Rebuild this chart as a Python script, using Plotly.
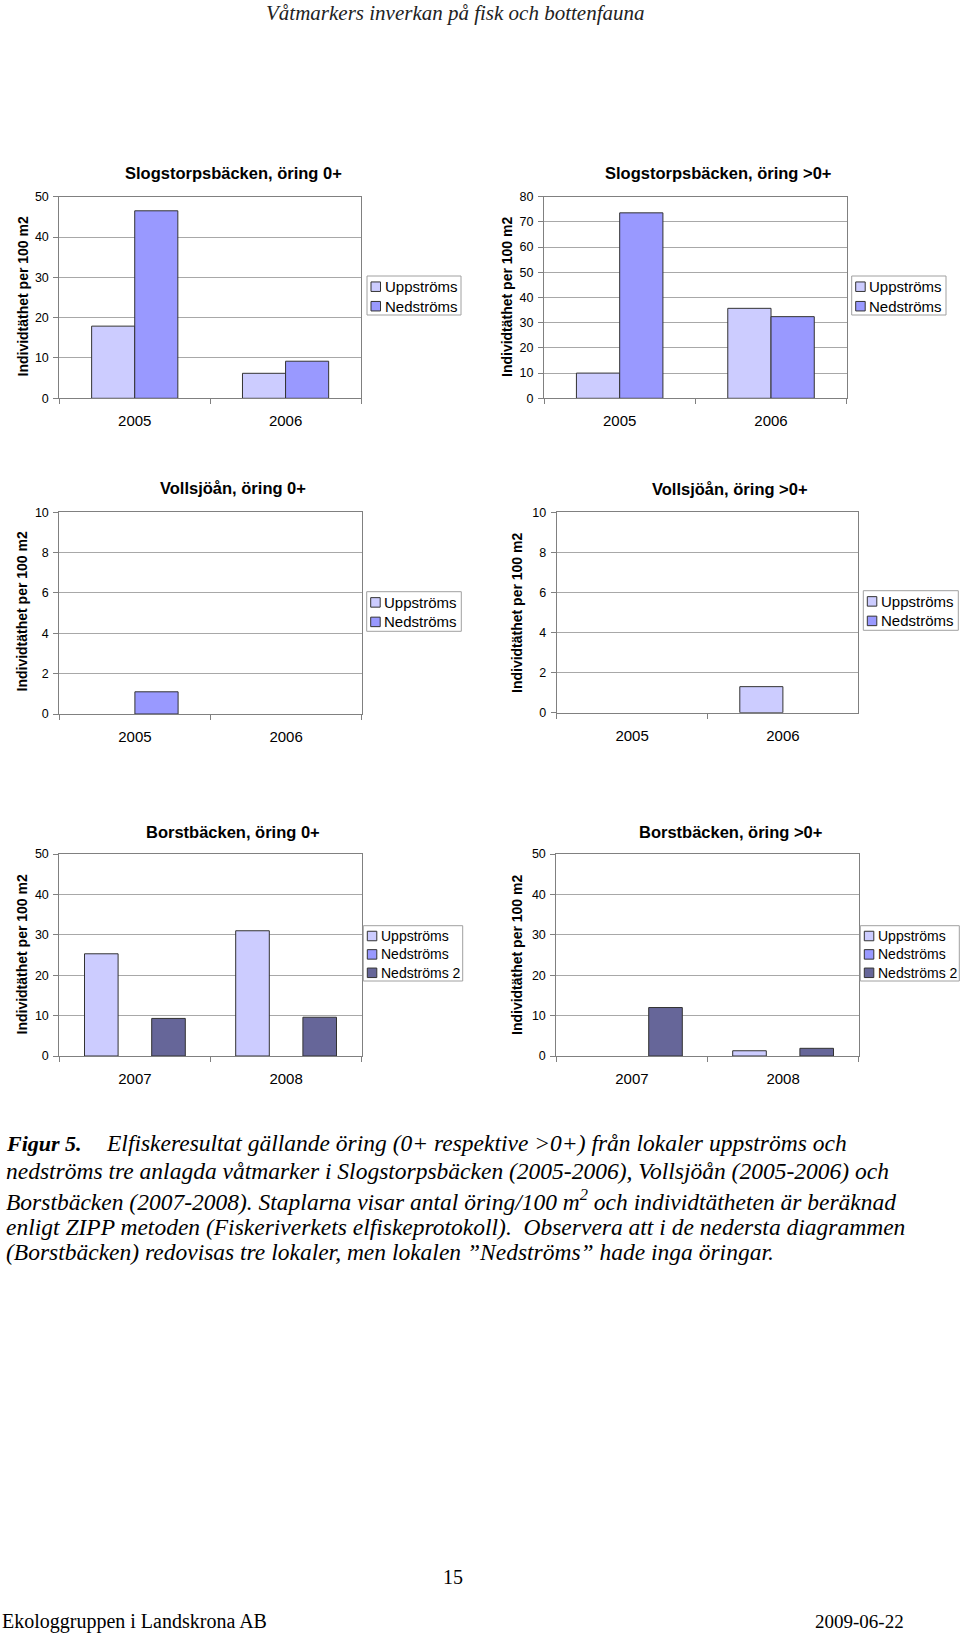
import plotly.graph_objects as go

# ---------------- data ----------------
years_slog = ["2005", "2006"]
slog0_upp = [17.9, 6.2]
slog0_ned = [46.5, 9.2]
slog1_upp = [10.0, 35.7]
slog1_ned = [73.6, 32.4]

years_voll = ["2005", "2006"]
voll0_upp = [0, 0]
voll0_ned = [1.1, 0]
voll1_upp = [0, 1.3]
voll1_ned = [0, 0]

years_borst = ["2007", "2008"]
borst0_upp = [25.3, 31.0]
borst0_ned = [0, 0]
borst0_ned2 = [9.3, 9.6]
borst1_upp = [0, 1.3]
borst1_ned = [0, 0]
borst1_ned2 = [12.0, 1.9]

series_names2 = ["Uppströms", "Nedströms"]
series_names3 = ["Uppströms", "Nedströms", "Nedströms 2"]
series_colors = ["#CCCCFF", "#9999FF", "#666699"]

titles = ["Slogstorpsbäcken, öring 0+", "Slogstorpsbäcken, öring >0+",
          "Vollsjöån, öring 0+", "Vollsjöån, öring >0+",
          "Borstbäcken, öring 0+", "Borstbäcken, öring >0+"]
y_title = "Individtäthet per 100 m2"

W, H = 960, 1634
def px(x):
    return x / W
def py(y):
    return 1 - y / H

SANS = "Liberation Sans, Arial, sans-serif"
SERIF = "Liberation Serif, Times New Roman, serif"

panels = [
    dict(cats=years_slog, vals=[slog0_upp, slog0_ned], ymax=50, dtick=10,
         box=(59.3, 196.7, 361.0, 398.3), title=(233, 173), ytitle=(22.5, 297),
         leg=(367, 276, 461, 315), legfont=15),
    dict(cats=years_slog, vals=[slog1_upp, slog1_ned], ymax=80, dtick=10,
         box=(544.0, 196.7, 846.7, 398.3), title=(718, 173), ytitle=(507, 297),
         leg=(851.7, 276, 946, 315), legfont=15),
    dict(cats=years_voll, vals=[voll0_upp, voll0_ned], ymax=10, dtick=2,
         box=(59.3, 512.3, 361.7, 714.0), title=(233, 488), ytitle=(21.5, 612),
         leg=(366.7, 591.7, 461.3, 631.3), legfont=15),
    dict(cats=years_voll, vals=[voll1_upp, voll1_ned], ymax=10, dtick=2,
         box=(556.7, 512.3, 858.3, 712.7), title=(730, 489), ytitle=(517, 613),
         leg=(863.3, 590.7, 958.3, 630.3), legfont=15),
    dict(cats=years_borst, vals=[borst0_upp, borst0_ned, borst0_ned2], ymax=50, dtick=10,
         box=(59.3, 854.0, 361.7, 1056.0), title=(233, 831.7), ytitle=(21.5, 955),
         leg=(363.3, 925.7, 462.7, 981), legfont=14),
    dict(cats=years_borst, vals=[borst1_upp, borst1_ned, borst1_ned2], ymax=50, dtick=10,
         box=(556.3, 854.0, 858.7, 1056.0), title=(730, 831.7), ytitle=(517, 955),
         leg=(860.3, 925.7, 959.3, 981), legfont=14),
]

fig = go.Figure()
annotations = []
shapes = []
layout_axes = {}

for i, p in enumerate(panels):
    n = i + 1
    xa = "x" if n == 1 else f"x{n}"
    ya = "y" if n == 1 else f"y{n}"
    nser = len(p["vals"])
    names = series_names2 if nser == 2 else series_names3
    # Excel-style gap width 150%
    bw = 1.0 / (nser + 1.5)
    for s in range(nser):
        off = -nser * bw / 2 + s * bw
        vals = p["vals"][s]
        fig.add_trace(go.Bar(
            x=p["cats"], y=vals, name=names[s],
            xaxis=xa, yaxis=ya, width=bw, offset=off,
            marker=dict(color=series_colors[s],
                        line=dict(color="#333333", width=[1 if v > 0 else 0 for v in vals])),
            showlegend=False, hoverinfo="skip"))
    x0, y0, x1, y1 = p["box"]
    layout_axes["xaxis" if n == 1 else f"xaxis{n}"] = dict(
        domain=[px(x0), px(x1)], anchor=ya, type="category",
        tickson="boundaries", ticks="outside", ticklen=5, tickcolor="#808080",
        showline=True, linecolor="#808080", linewidth=1, mirror=True,
        showgrid=False, tickfont=dict(family=SANS, size=15, color="#000"),
        ticklabelstandoff=9, automargin=False, fixedrange=True)
    layout_axes["yaxis" if n == 1 else f"yaxis{n}"] = dict(
        domain=[py(y1), py(y0)], anchor=xa, range=[0, p["ymax"]], dtick=p["dtick"],
        ticks="outside", ticklen=5, tickcolor="#808080",
        showline=True, linecolor="#808080", linewidth=1, mirror=True,
        showgrid=True, gridcolor="#A8A8A8", gridwidth=1, zeroline=False,
        tickfont=dict(family=SANS, size=12.5, color="#000"),
        ticklabelstandoff=2, automargin=False, fixedrange=True)
    # chart title
    annotations.append(dict(text=f"<b>{titles[i]}</b>", x=px(p["title"][0]), y=py(p["title"][1]),
                            xref="paper", yref="paper", xanchor="center", yanchor="middle",
                            showarrow=False, font=dict(family=SANS, size=16.5, color="#000")))
    # y axis title
    annotations.append(dict(text=f"<b>{y_title}</b>", x=px(p["ytitle"][0]), y=py(p["ytitle"][1]),
                            xref="paper", yref="paper", xanchor="center", yanchor="middle",
                            textangle=-90, showarrow=False,
                            font=dict(family=SANS, size=14, color="#000")))
    # legend box
    lx0, ly0, lx1, ly1 = p["leg"]
    shapes.append(dict(type="rect", xref="paper", yref="paper",
                       x0=px(lx0), x1=px(lx1), y0=py(ly1), y1=py(ly0),
                       line=dict(color="#A0A0A0", width=1), fillcolor="white"))
    step = 19.5 if nser == 2 else 18.4
    first = ly0 + 10.7 if nser == 2 else ly0 + 10.3
    for s in range(nser):
        cy = first + s * step
        shapes.append(dict(type="rect", xref="paper", yref="paper",
                           x0=px(lx0 + 4), x1=px(lx0 + 13.5),
                           y0=py(cy + 4.75), y1=py(cy - 4.75),
                           line=dict(color="#333333", width=1), fillcolor=series_colors[s]))
        annotations.append(dict(text=names[s], x=px(lx0 + 15.5), y=py(cy),
                                xref="paper", yref="paper", xanchor="left", yanchor="middle",
                                showarrow=False,
                                font=dict(family=SANS, size=p["legfont"], color="#000")))

# header
annotations.append(dict(text="<i>Våtmarkers inverkan på fisk och bottenfauna</i>",
                        x=px(455), y=1, xref="paper", yref="paper",
                        xanchor="center", yanchor="top", showarrow=False, borderpad=0,
                        font=dict(family=SERIF, size=21, color="#222222")))

# caption
caption_lines = [
    "Elfiskeresultat gällande öring (0+ respektive >0+) från lokaler uppströms och",
    "nedströms tre anlagda våtmarker i Slogstorpsbäcken (2005-2006), Vollsjöån (2005-2006) och",
    "Borstbäcken (2007-2008). Staplarna visar antal öring/100 m<sup>2</sup> och individtätheten är beräknad",
    "enligt ZIPP metoden (Fiskeriverkets elfiskeprotokoll).  Observera att i de nedersta diagrammen",
    "(Borstbäcken) redovisas tre lokaler, men lokalen ”Nedströms” hade inga öringar.",
]
cap_y = [1143, 1171, 1199.5, 1226.5, 1252]
CAP = 23.5
annotations.append(dict(text="<b><i>Figur 5.</i></b>", x=px(4), y=py(cap_y[0]),
                        xref="paper", yref="paper", xanchor="left", yanchor="middle",
                        showarrow=False, font=dict(family=SERIF, size=22, color="#000")))
for k, line in enumerate(caption_lines):
    annotations.append(dict(text=f"<i>{line}</i>", x=px(104 if k == 0 else 4), y=py(cap_y[k]),
                            xref="paper", yref="paper", xanchor="left", yanchor="middle",
                            showarrow=False, font=dict(family=SERIF, size=CAP, color="#000")))

# page number and footer
annotations.append(dict(text="15", x=px(453), y=py(1577), xref="paper", yref="paper",
                        xanchor="center", yanchor="middle", showarrow=False,
                        font=dict(family=SERIF, size=20, color="#000")))
annotations.append(dict(text="Ekologgruppen i Landskrona AB", x=px(0), y=py(1621),
                        xref="paper", yref="paper", xanchor="left", yanchor="middle",
                        showarrow=False, font=dict(family=SERIF, size=20, color="#000")))
annotations.append(dict(text="2009-06-22", x=px(906), y=py(1621), xref="paper", yref="paper",
                        xanchor="right", yanchor="middle", showarrow=False,
                        font=dict(family=SERIF, size=19, color="#000")))

fig.update_layout(
    width=W, height=H, autosize=False,
    margin=dict(l=0, r=0, t=0, b=0, pad=0, autoexpand=False),
    paper_bgcolor="white", plot_bgcolor="white",
    barmode="overlay", showlegend=False,
    annotations=annotations, shapes=shapes,
    **layout_axes)

fig.write_html("out.html", config={"displayModeBar": False, "responsive": False},
               post_script="document.documentElement.style.margin='0';document.body.style.margin='0';document.body.style.padding='0';document.body.style.overflow='hidden';")
